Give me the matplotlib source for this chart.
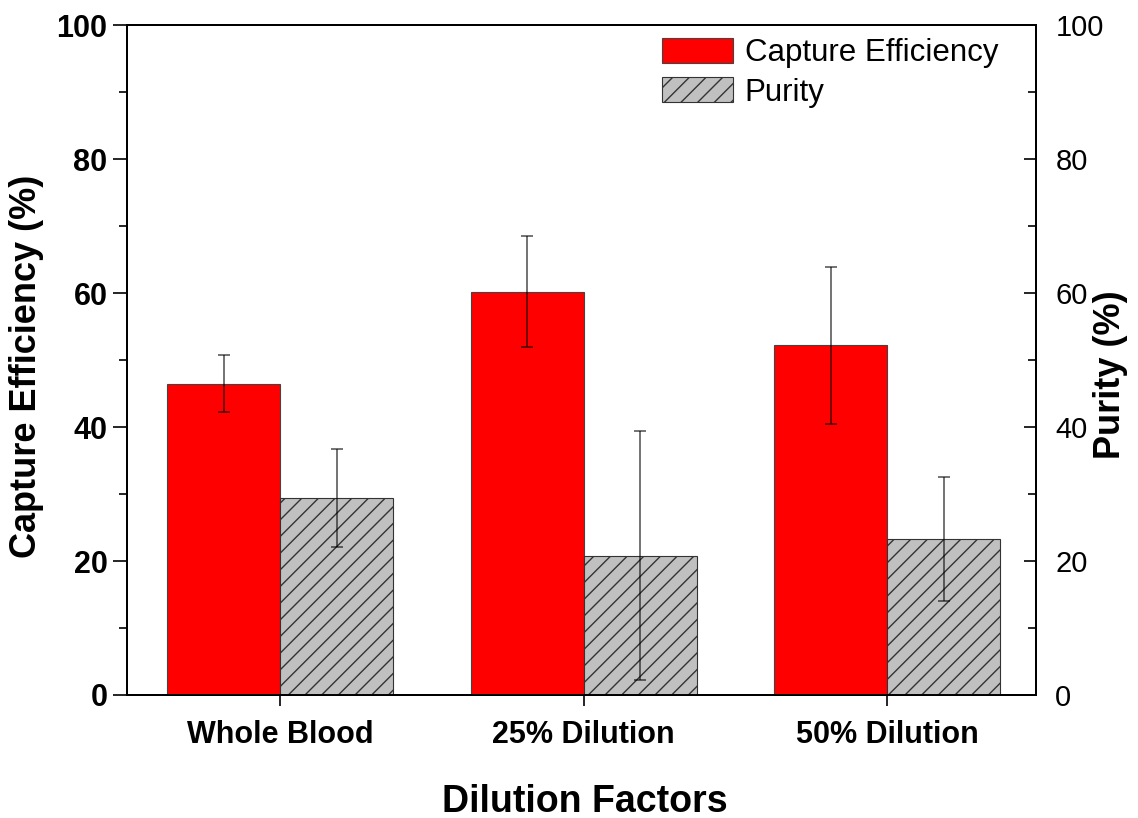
import matplotlib.pyplot as plt
import numpy as np
from matplotlib.ticker import MultipleLocator

plt.rcParams["font.family"] = ["Liberation Sans", "DejaVu Sans"]
plt.rcParams["hatch.linewidth"] = 1.0

categories = ["Whole Blood", "25% Dilution", "50% Dilution"]
capture_eff = [46.5, 60.2, 52.2]
capture_err = [4.2, 8.3, 11.7]
purity = [29.4, 20.8, 23.3]
purity_err = [7.3, 18.6, 9.2]

x = np.arange(len(categories))
width = 0.372

fig = plt.figure(figsize=(11.38, 8.18), dpi=100)
ax = fig.add_axes([0.1116, 0.1504, 0.7986, 0.8186])
ax2 = ax.twinx()

err_kw = dict(ecolor=(0, 0, 0, 0.55), elinewidth=1.4, capsize=4.5, capthick=1.4)
b1 = ax.bar(x - width / 2, capture_eff, width, yerr=capture_err, color="#ff0000",
            edgecolor="#444444", linewidth=0.8, error_kw=err_kw, label="Capture Efficiency")
b2 = ax2.bar(x + width / 2, purity, width, yerr=purity_err, color="#c0c0c0",
             edgecolor="#333333", linewidth=0.8, hatch="//", error_kw=err_kw, label="Purity")

for a in (ax, ax2):
    a.set_xlim(-0.505, 2.49)
    a.set_ylim(0, 100)
    a.yaxis.set_major_locator(MultipleLocator(20))
    a.yaxis.set_minor_locator(MultipleLocator(10))
    for s in a.spines.values():
        s.set_linewidth(1.4)

ax.set_xticks(x)
ax.set_xticklabels(categories, fontsize=22, fontweight="bold")
ax.tick_params(axis="x", direction="out", length=8, width=1.2, pad=10, top=False)
ax.tick_params(axis="y", which="major", direction="out", length=10, width=1.2, labelsize=22, pad=4)
ax.tick_params(axis="y", which="minor", direction="out", length=6, width=1.2)
for lbl in ax.get_yticklabels():
    lbl.set_fontweight("bold")

ax2.tick_params(axis="y", which="major", direction="in", length=9, width=1.2, labelsize=21, pad=14)
ax2.tick_params(axis="y", which="minor", direction="in", length=6, width=1.2)

ax.set_xlabel("Dilution Factors", fontsize=27, fontweight="bold")
ax.xaxis.set_label_coords(0.504, -0.133)
ax.set_ylabel("Capture Efficiency (%)", fontsize=26, fontweight="bold")
ax.yaxis.set_label_coords(-0.091, 0.49)
ax2.set_ylabel("Purity (%)", fontsize=26, fontweight="bold")
ax2.yaxis.set_label_coords(1.063, 0.478)

ax.legend([b1, b2], ["Capture Efficiency", "Purity"], loc="upper left",
          bbox_to_anchor=(0.577, 0.998), frameon=False, fontsize=22.5,
          handlelength=2.25, handleheight=0.85, handletextpad=0.38,
          labelspacing=0.3, borderaxespad=0, borderpad=0.35)

fig.savefig("out.png", dpi=100)
